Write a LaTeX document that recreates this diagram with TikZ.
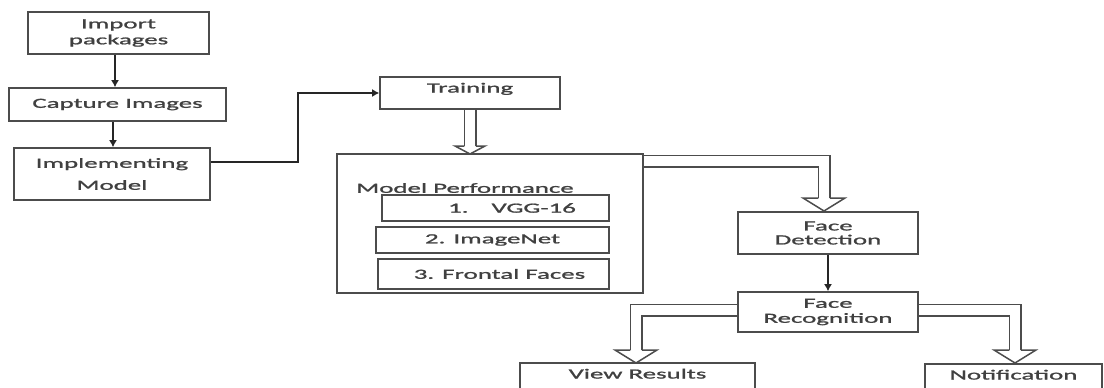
\documentclass[tikz,border=0pt]{standalone}
\usepackage{fontspec}
\setmainfont[FakeStretch=1.92,FakeBold=1.3]{Carlito}
\usetikzlibrary{arrows.meta,calc}
\begin{document}
\begin{tikzpicture}[x=1pt,y=-1pt,
 box/.style={draw=black!70, line width=1.6pt, fill=white, text=black!75, align=center, inner sep=0pt, font=\fontsize{14}{16}\selectfont},
 lbl/.style={text=black!75, inner sep=0pt, font=\fontsize{14}{16}\selectfont},
 arr/.style={draw=black!85, line width=1.5pt, -{Latex[length=7pt,width=8pt]}},
 dbl/.style={draw=black!70, line width=1.5pt, double=white, double distance=10pt},
 hd/.style={draw=black!70, line width=1.5pt},
 bighead/.pic={\draw[hd] (-5.75,0) -- (-21,0) -- (0,13) -- (21,0) -- (5.75,0);},
 smallhead/.pic={\draw[hd] (-5.75,0) -- (-15,0) -- (0,8) -- (15,0) -- (5.75,0);}
]
\useasboundingbox (0,0) rectangle (1104,388);
\node[box, minimum width=181pt, minimum height=42pt] (imp) at (118.5,33) {Import\\packages};
\node[box, minimum width=217pt, minimum height=33pt] (cap) at (117.5,104.5) {Capture Images};
\node[box, minimum width=196pt, minimum height=52pt] (impl) at (112,174) {Implementing\\[6pt]Model};
\node[box, minimum width=180pt, minimum height=32pt, text height=10pt, text depth=11pt] (train) at (470,93) {Training};
\node[box, minimum width=306pt, minimum height=139pt] (mp) at (490,223.5) {};
\node[lbl] (mpT) at (465,188) {Model Performance};
\node[box, minimum width=227pt, minimum height=26pt] (vgg) at (495.5,208) {\hspace*{33pt}1.\hspace{23pt}VGG-16};
\node[box, minimum width=233pt, minimum height=26pt] (imn) at (492.5,240) {2. ImageNet};
\node[box, minimum width=231pt, minimum height=30pt] (ff) at (493.5,274) {\hspace*{12pt}3. Frontal Faces};
\node[box, minimum width=180pt, minimum height=42pt] (fd) at (828,233) {Face\\[-2pt]Detection};
\node[box, minimum width=180pt, minimum height=40pt] (fr) at (828,312) {Face\\[-1pt]Recognition};
\node[box, minimum width=235pt, minimum height=45pt, text height=10pt, text depth=24pt] (vr) at (637.5,385.5) {View Results};
\node[box, minimum width=177pt, minimum height=45pt, text height=10pt, text depth=24pt] (nt) at (1013.5,386.5) {Notification};

\draw[arr] ([xshift=-3.5pt]imp.south) -- ([xshift=-3.5pt]imp.south |- cap.north);
\draw[arr] ([xshift=-4.5pt]cap.south) -- ([xshift=-4.5pt]cap.south |- impl.north);
\draw[arr] ([yshift=12pt]impl.east) -- ++(87,0) |- (train.west);
\draw[arr] (fd.south) -- (fr.north);

\coordinate (h0) at (470,146);
\draw[dbl] (train.south) -- (h0);
\pic at (h0) {smallhead};
\coordinate (h1) at (824,198);
\draw[dbl] ([yshift=62.5pt]mp.east) -| (h1);
\pic at (h1) {bighead};
\coordinate (h2) at (636,350);
\draw[dbl] ([yshift=2pt]fr.west) -| (h2);
\pic at (h2) {bighead};
\coordinate (h3) at (1015,350);
\draw[dbl] ([yshift=2pt]fr.east) -| (h3);
\pic at (h3) {bighead};
\end{tikzpicture}
\end{document}
